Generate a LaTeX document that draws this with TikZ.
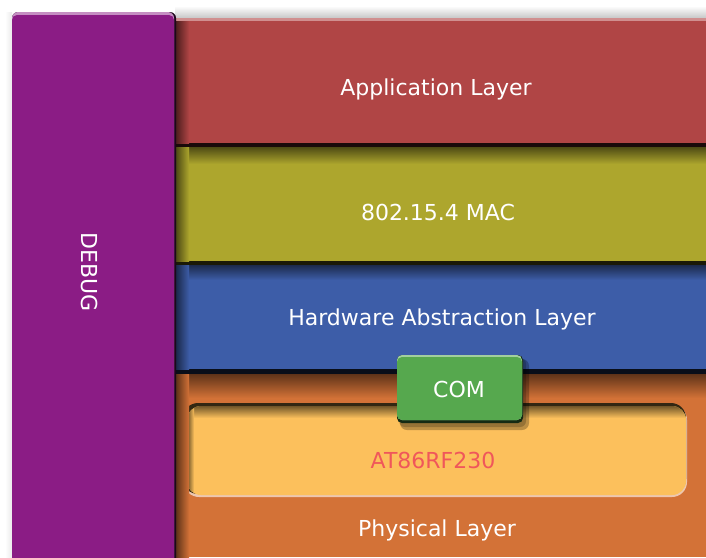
\documentclass[tikz,border=0pt]{standalone}
\usepackage{fontspec}
\setmainfont{DejaVu Sans}

\definecolor{debugc}{RGB}{139,28,133}
\definecolor{appc}{RGB}{176,69,69}
\definecolor{macc}{RGB}{173,166,45}
\definecolor{halc}{RGB}{61,93,168}
\definecolor{phyc}{RGB}{211,114,55}
\definecolor{chipc}{RGB}{252,192,92}
\definecolor{comc}{RGB}{86,168,78}
\definecolor{chiptext}{RGB}{240,87,90}

\tikzset{
  layer/.style={anchor=north west,inner sep=0pt,outer sep=0pt},
  caption/.style={text=white,font=\fontsize{22}{26}\selectfont},
  edge/.style={fill=black!85!#1},
  topshade/.style={top color=black!55!#1,bottom color=#1,draw=none},
  sideshade/.style={left color=black!60!#1,right color=#1,draw=none},
}

\begin{document}
\begin{tikzpicture}[x=1pt,y=-1pt]
\useasboundingbox[fill=white] (0,0) rectangle (706,557);

% soft shadow above the stack
\shade[top color=white,bottom color=black!22] (175,6) rectangle (706,18);
\shade[left color=white,right color=black!8] (5,12) rectangle (12,557);

% the four layers
\node[layer,fill=appc,minimum width=531pt,minimum height=128pt] (app) at (175,18) {};
\node[layer,fill=macc,minimum width=531pt,minimum height=118pt] (mac) at (175,146) {};
\node[layer,fill=halc,minimum width=531pt,minimum height=108pt] (hal) at (175,264) {};
\node[layer,fill=phyc,minimum width=531pt,minimum height=185pt] (phy) at (175,372) {};

% edges between the layers
\fill[appc!60!white] (175,18) rectangle (706,21);
\shade[topshade=macc] (175,147) rectangle (706,164);
\fill[edge=appc] (175,143) rectangle (706,147);
\shade[topshade=halc] (175,265) rectangle (706,280);
\fill[edge=macc] (175,261) rectangle (706,265);
\shade[topshade=phyc] (175,374) rectangle (706,398);
\fill[edge=halc] (175,369) rectangle (706,374);

% chip inside the physical layer
\fill[phyc!40!white,rounded corners=15pt] (184,405) rectangle (687,497);
\fill[black!80!chipc,rounded corners=15pt] (183,403) rectangle (686,494);
\node[layer,fill=chipc,rounded corners=14pt,minimum width=499pt,minimum height=89pt] (chip) at (187,406) {};
\begin{scope}
  \clip[rounded corners=14pt] (187,406) rectangle (686,495);
  \shade[topshade=chipc] (187,406) rectangle (686,418);
  \shade[sideshade=chipc] (187,406) rectangle (194,495);
\end{scope}

% COM block
\fill[black,opacity=.25,rounded corners=7pt] (400,359) rectangle (529,430);
\fill[black,opacity=.2,rounded corners=6pt] (399,358) rectangle (526,427);
\fill[black!75!comc,rounded corners=5pt] (397,355) rectangle (523,423);
\fill[comc!55!white,rounded corners=5pt] (397,355) rectangle (522,420);
\node[layer,fill=comc,rounded corners=5pt,minimum width=125pt,minimum height=63pt] (com) at (397,357) {};

% DEBUG bar with its shadow
\shade[sideshade=appc] (175,21) rectangle (189,143);
\shade[sideshade=macc] (175,147) rectangle (189,261);
\shade[sideshade=halc] (175,265) rectangle (189,369);
\shade[sideshade=phyc] (175,374) rectangle (189,557);
\fill[black!80!debugc,rounded corners=6pt] (12,12) rectangle (176,570);
\fill[debugc!50!white,rounded corners=6pt] (12,12) rectangle (174,570);
\node[layer,fill=debugc,rounded corners=5pt,minimum width=162pt,minimum height=555pt] (debug) at (12,15) {};

% labels
\node[caption] (apptxt) at (436,89) {Application Layer};
\node[caption] (mactxt) at (438,212) {802.15.4 MAC};
\node[caption] (haltxt) at (442,319) {Hardware Abstraction Layer};
\node[caption] (comtxt) at (459,389) {COM};
\node[caption,text=chiptext] (chiptxt) at (433,460) {AT86RF230};
\node[caption] (phytxt) at (437,530) {Physical Layer};
\node[caption,rotate=-90] (debugtxt) at (90,272) {DEBUG};
\end{tikzpicture}
\end{document}
